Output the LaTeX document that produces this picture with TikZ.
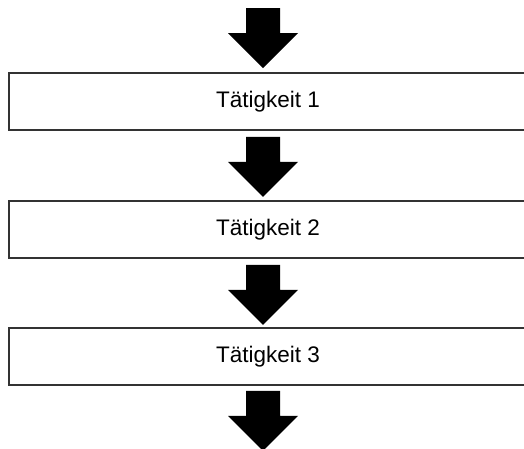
\documentclass[tikz,border=0pt]{standalone}
\usepackage{fontspec}
\setmainfont{Liberation Sans}
\begin{document}
\begin{tikzpicture}[x=1pt,y=-1pt,
  taskbox/.style={draw=black!80, line width=1.6pt, fill=white, minimum width=518pt, minimum height=57pt, inner sep=0pt, font=\fontsize{22.5}{27}\selectfont},
  blockfill/.style={fill=black}]
\useasboundingbox (0,0) rectangle (524,448);
\fill[white] (0,0) rectangle (524,448);
\begin{scope}
\clip (0,0) rectangle (524,448);
\newcommand\blockarr[1]{%
  \fill[blockfill] (#1) ++(-17,0) -- ++(34,0) -- ++(0,25) -- ++(18,0) -- ++(-35,35) -- ++(-35,-35) -- ++(18,0) -- cycle;}
\node[taskbox] (t1) at (268,101.5) {\raisebox{2pt}{Tätigkeit 1}};
\node[taskbox] (t2) at (268,229.5) {\raisebox{2pt}{Tätigkeit 2}};
\node[taskbox] (t3) at (268,356.5) {\raisebox{2pt}{Tätigkeit 3}};
\coordinate (a0) at (263,8);
\coordinate (a1) at ([yshift=-6pt]t1.south -| a0);
\coordinate (a2) at ([yshift=-6pt]t2.south -| a0);
\coordinate (a3) at ([yshift=-5pt]t3.south -| a0);
\blockarr{a0}
\blockarr{a1}
\blockarr{a2}
\blockarr{a3}
\end{scope}
\end{tikzpicture}
\end{document}
